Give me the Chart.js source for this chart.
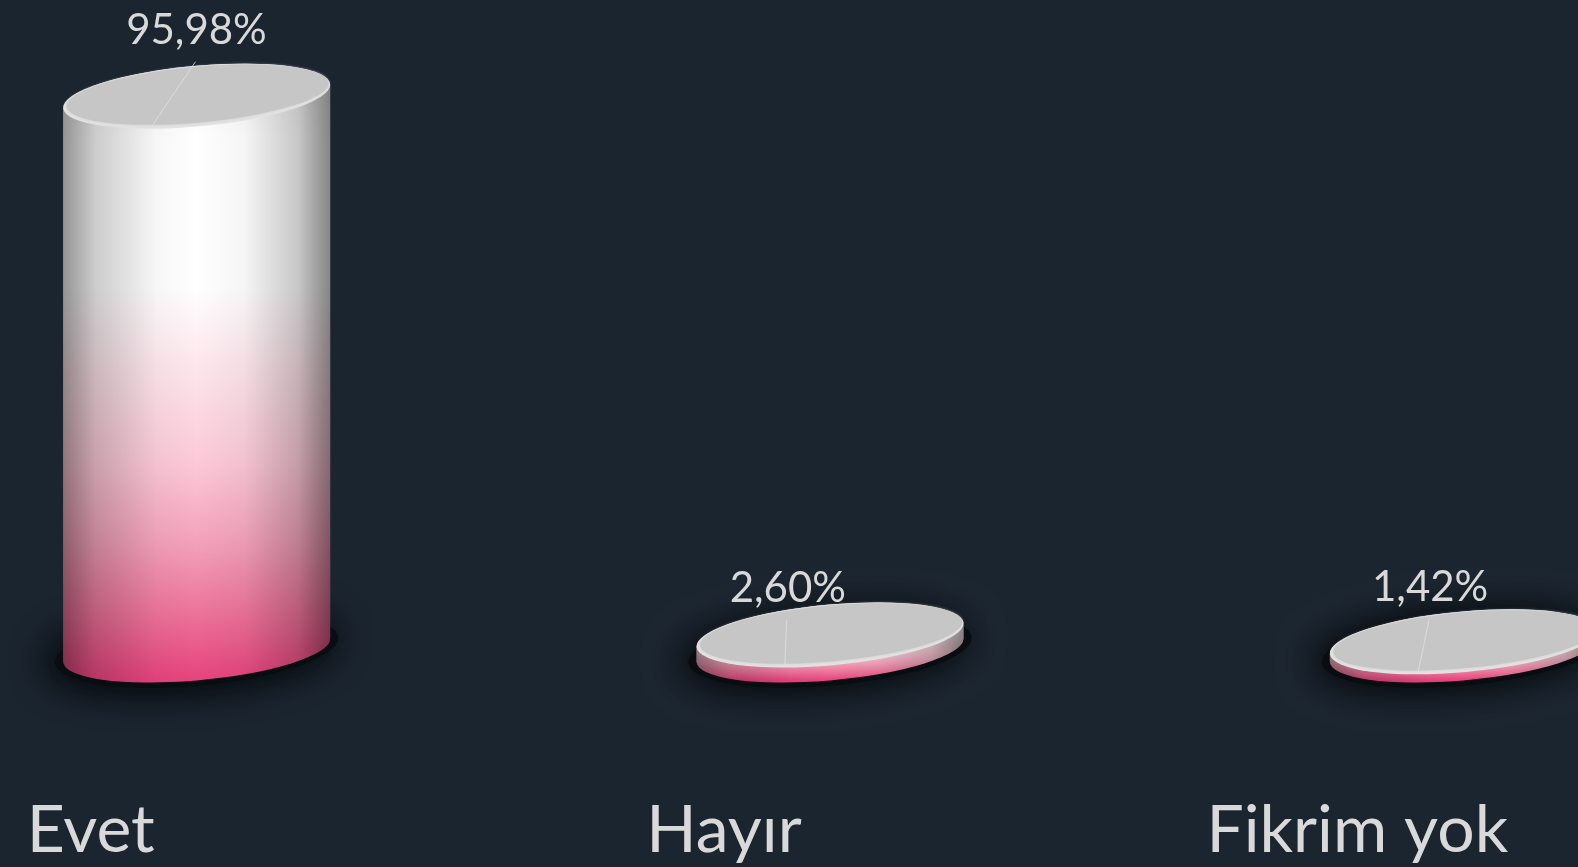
<!DOCTYPE html>
<html>
<head>
<meta charset="utf-8">
<script src="https://cdn.jsdelivr.net/npm/chart.js@4.4.1/dist/chart.umd.min.js"></script>
<style>
    html, body { margin: 0; padding: 0; width: 1578px; height: 867px; overflow: hidden; background: #1b2530; }
    #wrap { position: absolute; left: -120px; top: 0; width: 1900px; height: 867px; }
</style>
</head>
<body>
<div id="wrap"><canvas id="chart" width="1900" height="867"></canvas></div>
<script>
const categories = ['Evet', 'Hayır', 'Fikrim yok']
const shares = [95.98, 2.60, 1.42]
const valueRange = [0, 100]

// look of the 3D cylinders
const TILT = -0.0906          // rotation of the ellipses (radians)
const RY = 30.3               // short radius of the ellipses
const labelNudge = [[47, 85], [5, 66], [14, 73]]   // manual label placement as in the slide
const TEXT = '#d9d9d9'

const formatShare = v => v.toFixed(2).replace('.', ',') + '%'

function ellipsePoint(cx, cy, a, b, t) {
    return {
        x: cx + a * Math.cos(t) * Math.cos(TILT) - b * Math.sin(t) * Math.sin(TILT),
        y: cy + a * Math.cos(t) * Math.sin(TILT) + b * Math.sin(t) * Math.cos(TILT)
    }
}

const cylinderPlugin = {
    id: 'cylinders',
    afterDatasetsDraw(chart) {
        const ctx = chart.ctx
        const meta = chart.getDatasetMeta(0)
        const s = Math.sin(TILT), c = Math.cos(TILT)

        meta.data.forEach((bar, i) => {
            const cx = bar.x
            const top = bar.y
            const base = bar.base
            const W = bar.width / 2
            const b = RY
            const a = Math.sqrt((W * W - b * b * s * s) / (c * c))
            const t0 = Math.atan2(-b * s, a * c)
            const tLow = Math.atan2(b * c, a * s)

            // soft shadow on the floor
            ctx.save()
            ctx.shadowColor = 'rgba(5,8,12,0.9)'
            ctx.shadowBlur = 38
            ctx.shadowOffsetX = -6
            ctx.fillStyle = 'rgba(10,14,19,0.95)'
            for (let k = 0; k < 2; k++) {
                ctx.beginPath()
                ctx.ellipse(cx, base, a + 8, b + 5, TILT, 0, Math.PI * 2)
                ctx.fill()
            }
            ctx.restore()

            const bodyPath = () => {
                ctx.beginPath()
                ctx.ellipse(cx, base, a, b, TILT, t0, t0 + Math.PI, false)
                ctx.ellipse(cx, top, a, b, TILT, t0 + Math.PI, t0 + 2 * Math.PI, false)
                ctx.closePath()
            }

            // side: white to pink
            const vg = ctx.createLinearGradient(0, top - b, 0, base + b)
            vg.addColorStop(0, '#f4f4f4')
            vg.addColorStop(0.12, '#ffffff')
            vg.addColorStop(0.36, '#ffffff')
            vg.addColorStop(0.5, '#fde4eb')
            vg.addColorStop(0.65, '#fbc8d6')
            vg.addColorStop(0.78, '#f3a0b9')
            vg.addColorStop(0.9, '#ec6f98')
            vg.addColorStop(1, '#e6437c')
            bodyPath()
            ctx.fillStyle = vg
            ctx.fill()

            // side: round shading
            const hg = ctx.createLinearGradient(cx - W, 0, cx + W, 0)
            hg.addColorStop(0, 'rgba(0,0,0,0.42)')
            hg.addColorStop(0.12, 'rgba(0,0,0,0.2)')
            hg.addColorStop(0.35, 'rgba(0,0,0,0.03)')
            hg.addColorStop(0.5, 'rgba(0,0,0,0)')
            hg.addColorStop(0.68, 'rgba(0,0,0,0.04)')
            hg.addColorStop(0.88, 'rgba(0,0,0,0.22)')
            hg.addColorStop(1, 'rgba(0,0,0,0.48)')
            bodyPath()
            ctx.fillStyle = hg
            ctx.fill()

            // top face with a soft bevel
            ctx.beginPath()
            ctx.ellipse(cx, top, a, b, TILT, 0, Math.PI * 2)
            ctx.fillStyle = '#e2e2e2'
            ctx.fill()
            ctx.save()
            ctx.shadowColor = 'rgba(200,200,200,0.9)'
            ctx.shadowBlur = 3
            ctx.beginPath()
            ctx.ellipse(cx + 1, top - 1.5, a - 2.5, b - 2.5, TILT, 0, Math.PI * 2)
            ctx.fillStyle = '#c6c6c6'
            ctx.fill()
            ctx.restore()

            // leader line and value label
            const anchor = ellipsePoint(cx, top, a, b, tLow)
            const lx = anchor.x + labelNudge[i][0]
            const by = anchor.y - labelNudge[i][1]
            ctx.save()
            ctx.strokeStyle = 'rgba(225,225,225,0.8)'
            ctx.lineWidth = 1
            ctx.beginPath()
            ctx.moveTo(anchor.x + 2, anchor.y - 2)
            ctx.lineTo(lx - 1, by + 18)
            ctx.stroke()
            ctx.fillStyle = TEXT
            ctx.font = '42px Lato'
            ctx.textAlign = 'center'
            ctx.textBaseline = 'alphabetic'
            ctx.fillText(formatShare(shares[i]), lx, by)
            ctx.restore()
        })
    }
}

new Chart(document.getElementById('chart'), {
    type: 'bar',
    data: {
        labels: categories,
        datasets: [{
            data: shares,
            backgroundColor: 'rgba(0,0,0,0)',
            borderWidth: 0,
            categoryPercentage: 1,
            barPercentage: 0.4215
        }]
    },
    options: {
        responsive: false,
        animation: false,
        devicePixelRatio: 1,
        layout: { padding: { top: 73, left: 0, right: 0, bottom: 0 } },
        plugins: {
            legend: { display: false },
            tooltip: { enabled: false }
        },
        scales: {
            x: {
                grid: { display: false, drawTicks: false },
                border: { display: false },
                ticks: {
                    color: TEXT,
                    font: { family: 'Lato', size: 66 },
                    padding: 141,
                    labelOffset: -106,
                    maxRotation: 0,
                    autoSkip: false
                },
                afterFit: scale => { scale.height = 217 }
            },
            y: { display: false, min: valueRange[0], max: valueRange[1] }
        }
    },
    plugins: [cylinderPlugin]
})
</script>
</body>
</html>
